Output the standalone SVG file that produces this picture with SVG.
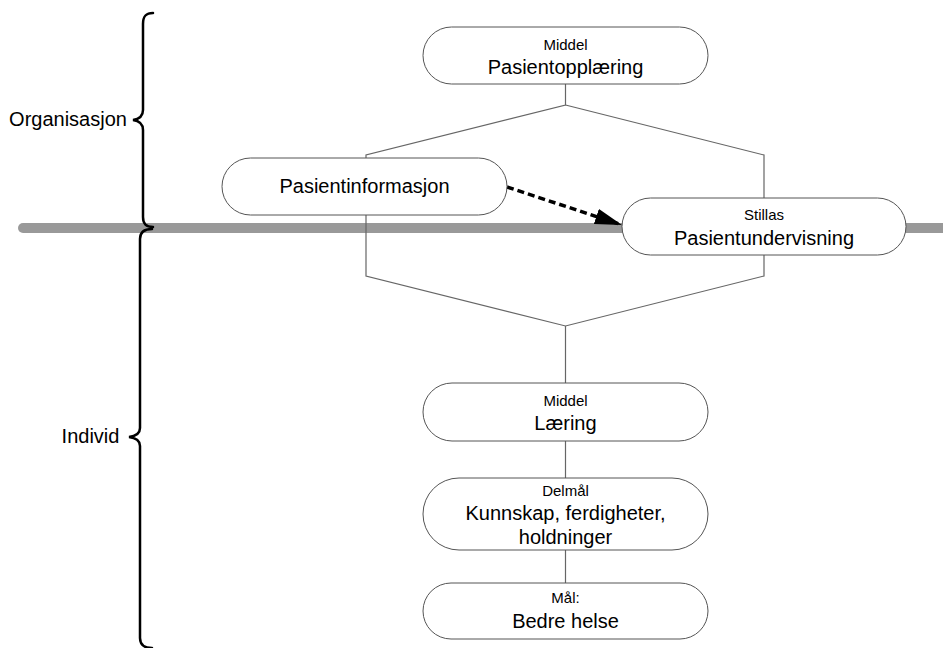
<svg xmlns="http://www.w3.org/2000/svg" width="943" height="648" viewBox="0 0 943 648">
<style>
  text { font-family: "Liberation Sans", Arial, sans-serif; fill: #000; text-anchor: middle; }
  .big { font-size: 20px; }
  .small { font-size: 15px; }
  .node rect { fill: #fff; stroke: #555; stroke-width: 1; }
  .conn { fill: none; stroke: #666; stroke-width: 1.2; }
  .brace { fill: none; stroke: #000; stroke-width: 2.5; stroke-linecap: round; }
</style>
<defs>
  <marker id="arrow" markerUnits="userSpaceOnUse" markerWidth="30" markerHeight="20" refX="27" refY="8" orient="auto">
    <path d="M0,0 L27,8 L0,16 Z" fill="#000"/>
  </marker>
</defs>
<rect width="943" height="648" fill="#fff"/>
<line x1="23" y1="228" x2="948" y2="228" stroke="#999" stroke-width="10" stroke-linecap="round"/>
<g id="braces">
  <path class="brace" d="M153,13 C146,13 143,16 143,24 L143,110 C143,116 140,119 133,120 C140,121 143,124 143,130 L143,217 C143,224 146,227 153,227"/>
  <path class="brace" d="M152,229 C144,229 140,232 140,239 L140,428 C140,433 137,436 129,437 C137,438 140,441 140,446 L140,638 C140,645 144,648 152,648"/>
  <text class="big" x="68" y="126">Organisasjon</text>
  <text class="big" x="90.5" y="443">Individ</text>
</g>
<g id="connectors">
  <path class="conn" d="M565.5,84 L565.5,105 L366,155 L366,276 L565.5,326 L764,276 L764,255"/>
  <path class="conn" d="M764,198 L764,155 L565.5,105"/>
  <path class="conn" d="M565.5,326 L565.5,383 M565.5,441 L565.5,478 M565.5,550 L565.5,583"/>
  <line x1="507" y1="187" x2="622" y2="225" stroke="#000" stroke-width="3.5" stroke-dasharray="7,4" marker-end="url(#arrow)"/>
</g>
<g id="n-pasientopplaering" class="node">
  <rect x="423" y="27" width="285" height="57" rx="28.5"/>
  <text class="small" x="565.5" y="50">Middel</text>
  <text class="big" x="565.5" y="74">Pasientopplæring</text>
</g>
<g id="n-pasientinformasjon" class="node">
  <rect x="222" y="158" width="285" height="57" rx="28.5"/>
  <text class="big" x="364.5" y="193">Pasientinformasjon</text>
</g>
<g id="n-pasientundervisning" class="node">
  <rect x="622" y="198" width="284" height="57" rx="28.5"/>
  <text class="small" x="764" y="220">Stillas</text>
  <text class="big" x="764" y="245">Pasientundervisning</text>
</g>
<g id="n-laering" class="node">
  <rect x="423" y="383" width="285" height="58" rx="29"/>
  <text class="small" x="565.5" y="406">Middel</text>
  <text class="big" x="565.5" y="430">Læring</text>
</g>
<g id="n-delmal" class="node">
  <rect x="423" y="478" width="285" height="72" rx="36"/>
  <text class="small" x="565.5" y="496">Delmål</text>
  <text class="big" x="565.5" y="520">Kunnskap, ferdigheter,</text>
  <text class="big" x="565.5" y="544">holdninger</text>
</g>
<g id="n-mal" class="node">
  <rect x="423" y="583" width="285" height="56" rx="28"/>
  <text class="small" x="565.5" y="603">Mål:</text>
  <text class="big" x="565.5" y="628">Bedre helse</text>
</g>
</svg>
